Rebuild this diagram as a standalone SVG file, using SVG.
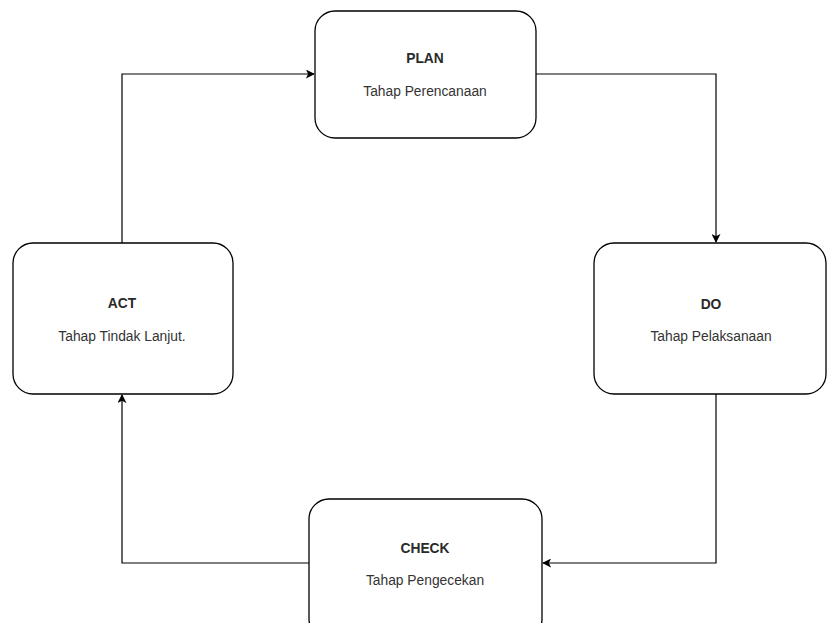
<svg xmlns="http://www.w3.org/2000/svg" width="827" height="623" viewBox="0 0 827 623">
<defs>
<style>
.box{fill:#fff;stroke:#000;stroke-width:1.3}
.t{font-family:"Liberation Sans",Arial,sans-serif;font-size:13.8px;font-weight:bold;fill:#2a2a2a;text-anchor:middle}
.s{font-family:"Liberation Sans",Arial,sans-serif;font-size:13.8px;fill:#333;text-anchor:middle}
.c{fill:none;stroke:#000;stroke-width:1.2}
</style>
<marker id="a" viewBox="0 0 10 10" refX="9" refY="5" markerWidth="9" markerHeight="9" markerUnits="userSpaceOnUse" orient="auto">
<path d="M0,0 L10,5 L0,10 L2.5,5 Z" fill="#000"/>
</marker>
</defs>
<rect width="827" height="623" fill="#fff"/>
<g id="connectors">
<path class="c" d="M122,243 V74 H314" marker-end="url(#a)"/>
<path class="c" d="M536,74 H716 V242" marker-end="url(#a)"/>
<path class="c" d="M716,394 V563 H543" marker-end="url(#a)"/>
<path class="c" d="M309,563 H122 V395" marker-end="url(#a)"/>
</g>
<g id="plan">
<rect class="box" x="315" y="11" width="221" height="127" rx="20"/>
<text class="t" x="425" y="63">PLAN</text>
<text class="s" x="425" y="96">Tahap Perencanaan</text>
</g>
<g id="do">
<rect class="box" x="594" y="243" width="232" height="151" rx="20"/>
<text class="t" x="711" y="309">DO</text>
<text class="s" x="711" y="341">Tahap Pelaksanaan</text>
</g>
<g id="check">
<rect class="box" x="309" y="499" width="233" height="140" rx="20"/>
<text class="t" x="425" y="553">CHECK</text>
<text class="s" x="425" y="585">Tahap Pengecekan</text>
</g>
<g id="act">
<rect class="box" x="13" y="243" width="220" height="151" rx="20"/>
<text class="t" x="122" y="308">ACT</text>
<text class="s" x="122" y="341">Tahap Tindak Lanjut.</text>
</g>
</svg>
